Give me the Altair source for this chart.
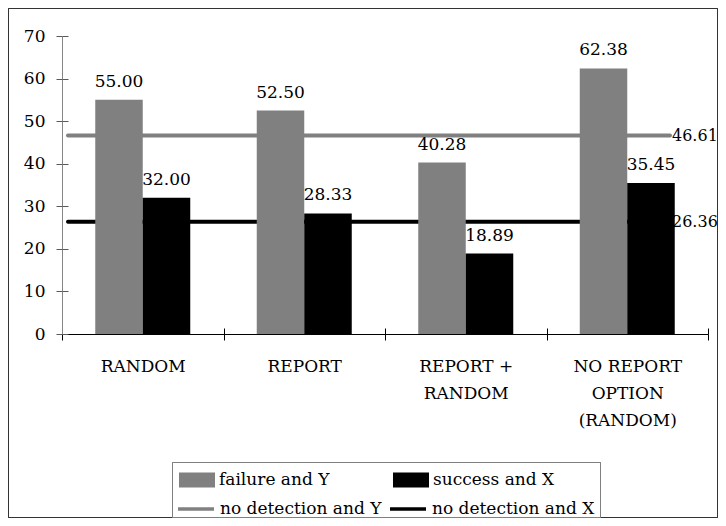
import altair as alt
import pandas as pd

FONT = "DejaVu Serif"
FS = 17

categories = ["RANDOM", "REPORT", "REPORT + RANDOM", "NO REPORT OPTION (RANDOM)"]
category_lines = [["RANDOM"], ["REPORT"], ["REPORT +", "RANDOM"], ["NO REPORT", "OPTION", "(RANDOM)"]]
bar_series = ["failure and Y", "success and X"]
failure_y = [55.00, 52.50, 40.28, 62.38]
success_x = [32.00, 28.33, 18.89, 35.45]
line_series = ["no detection and Y", "no detection and X"]
line_values = [46.61, 26.36]
bar_colors = ["#808080", "#000000"]
line_colors = ["#808080", "#000000"]
y_ticks = [0, 10, 20, 30, 40, 50, 60, 70]

rows = []
for c, f, s in zip(categories, failure_y, success_x):
    rows.append({"category": c, "series": bar_series[0], "value": f})
    rows.append({"category": c, "series": bar_series[1], "value": s})
bars_df = pd.DataFrame(rows)
lines_df = pd.DataFrame({"series": line_series, "value": line_values})

# multi-line category labels
expr = "datum.label"
for c, lines in reversed(list(zip(categories, category_lines))):
    arr = "[" + ",".join("'" + l + "'" for l in lines) + "]"
    expr = f"datum.label === '{c}' ? {arr} : ({expr})"

legend_common = dict(
    orient="none", direction="horizontal", columns=2, title=None,
    labelFont=FONT, labelFontSize=FS, labelColor="black", labelLimit=400,
    symbolSize=400, labelOffset=12, rowPadding=0, padding=0,
)

fill = alt.Fill(
    "series:N",
    scale=alt.Scale(domain=bar_series, range=bar_colors),
    legend=alt.Legend(
        legendX=125, legendY=434, columnPadding=63,
        symbolType="M-1.8,-0.75H1.8V0.75H-1.8Z", symbolStrokeWidth=0, symbolOpacity=1,
        **legend_common,
    ),
)
stroke = alt.Stroke(
    "series:N",
    scale=alt.Scale(domain=line_series, range=line_colors),
    legend=alt.Legend(
        legendX=122, legendY=461, columnPadding=1,
        symbolType="M-1.8,0H1.8", symbolStrokeWidth=3.5, symbolOpacity=1,
        **legend_common,
    ),
)

x_main = alt.X(
    "category:N", sort=categories, scale=alt.Scale(paddingInner=0, paddingOuter=0),
    axis=alt.Axis(
        title=None, orient="bottom", tickBand="extent", tickSize=6, tickColor="black",
        domainColor="black", labelAngle=0, labelFont=FONT, labelFontSize=FS,
        labelColor="black", labelPadding=18, labelBaseline="top", labelLineHeight=27,
        labelExpr=expr,
    ),
)
x_inner = alt.X(
    "category:N", sort=categories,
    axis=alt.Axis(title=None, orient="bottom", offset=-6, tickBand="extent", tickSize=6,
                  tickColor="black", labels=False, domain=False),
)
xoff = alt.XOffset("series:N", sort=bar_series, scale=alt.Scale(paddingInner=0, paddingOuter=0.7))
y_scale = alt.Scale(domain=[0, 70], nice=False)
y_main = alt.Y(
    "value:Q", scale=y_scale,
    axis=alt.Axis(title=None, values=y_ticks, tickSize=6, tickColor="#595959",
                  domainColor="#868686", labelFont=FONT, labelFontSize=FS,
                  labelColor="black", labelPadding=11),
)
y_inner = alt.Y(
    "value:Q", scale=y_scale,
    axis=alt.Axis(title=None, orient="left", offset=-6, values=y_ticks, tickSize=6,
                  tickColor="#595959", labels=False, domain=False),
)
y_none = alt.Y("value:Q", scale=y_scale, axis=None)

rules = alt.Chart(lines_df).mark_rule(strokeWidth=4, strokeCap="round").encode(
    x=alt.value(6), x2=alt.value(608), y=y_none, stroke=stroke,
)
bars = alt.Chart(bars_df).mark_bar().encode(
    x=x_main, xOffset=xoff, y=y_main, fill=fill,
)
bar_labels = alt.Chart(bars_df).mark_text(
    font=FONT, fontSize=FS, baseline="alphabetic", dy=-13, color="black"
).encode(x=x_inner, xOffset=xoff, y=y_inner, text=alt.Text("value:Q", format=".2f"))
line_labels = alt.Chart(lines_df).mark_text(
    font=FONT, fontSize=16, align="left", baseline="middle", color="black"
).encode(x=alt.value(610), y=y_none, text=alt.Text("value:Q", format=".2f"))
frame = alt.Chart(lines_df).mark_rect(fill="transparent", stroke="#333333", strokeWidth=1).encode(
    x=alt.value(-53.5), x2=alt.value(655.5), y=alt.value(-27.5), y2=alt.value(481.5),
)
legend_box = alt.Chart(lines_df).mark_rect(fill="transparent", stroke="#808080", strokeWidth=1).encode(
    x=alt.value(110.5), x2=alt.value(538.5), y=alt.value(426.5), y2=alt.value(481.5),
)

chart = (
    alt.layer(rules, bars, bar_labels, line_labels, frame, legend_box)
    .resolve_axis(x="independent", y="independent")
    .properties(
        width=646, height=298,
        autosize=alt.AutoSizeParams(type="none"),
        padding={"left": 54, "top": 28, "right": 10, "bottom": 184},
    )
    .configure_view(stroke=None)
    .configure_axis(grid=False)
)

chart.save("out.html", embed_options={"renderer": "svg", "actions": False})
